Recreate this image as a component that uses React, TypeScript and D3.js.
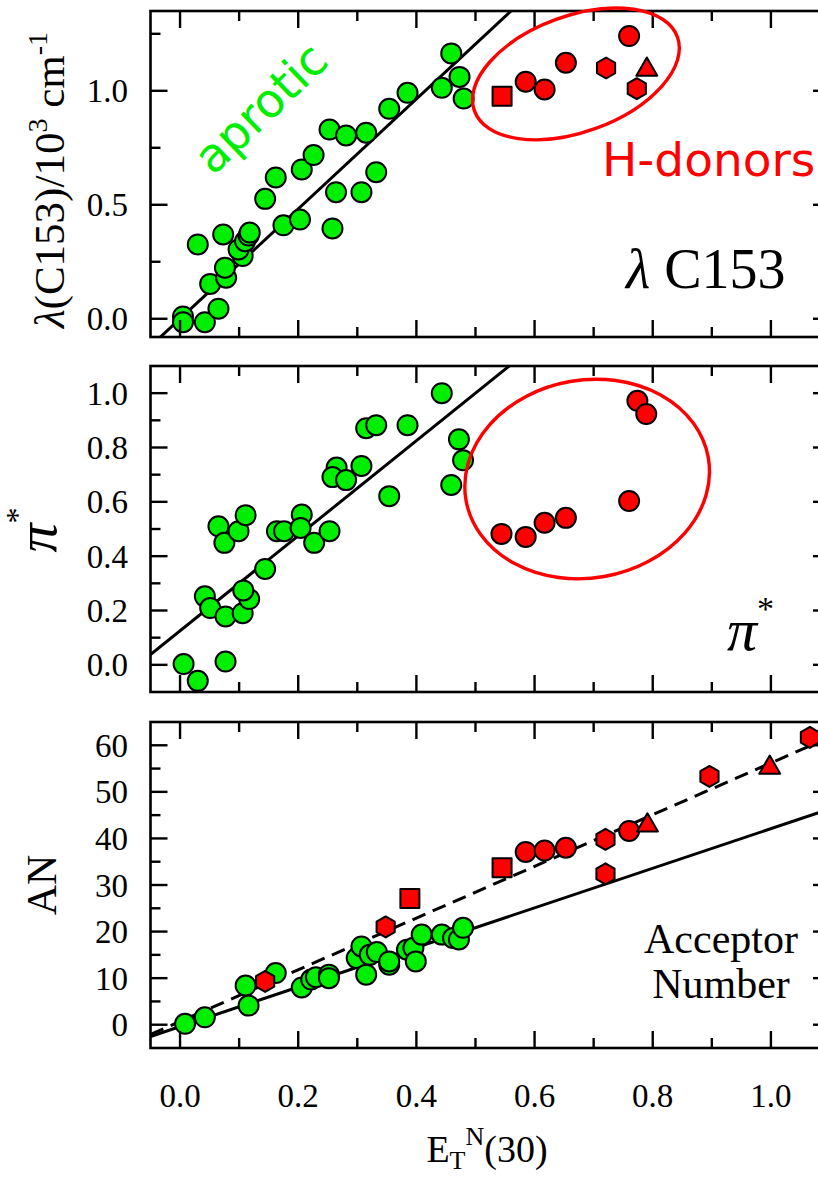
import React from 'react';
import * as d3 from 'd3';

// ---- data ----
// panel 1: lambda(C153)
const lamGreenX = [0.005, 0.005, 0.042, 0.065, 0.030, 0.051, 0.078, 0.076, 0.073, 0.106, 0.099, 0.110, 0.116, 0.118, 0.144, 0.162, 0.175, 0.203, 0.206, 0.226, 0.253, 0.258, 0.264, 0.281, 0.307, 0.315, 0.332, 0.354, 0.385, 0.443, 0.459, 0.473, 0.480];
const lamGreenY = [0.01, -0.015, -0.015, 0.044, 0.326, 0.153, 0.18, 0.224, 0.37, 0.275, 0.304, 0.34, 0.365, 0.378, 0.526, 0.62, 0.41, 0.435, 0.655, 0.718, 0.83, 0.396, 0.555, 0.804, 0.555, 0.816, 0.643, 0.921, 0.991, 1.013, 1.164, 1.061, 0.966];
const lamRedX = [0.545, 0.585, 0.617, 0.653, 0.721, 0.760, 0.790, 0.773];
const lamRedY = [0.976, 1.04, 1.006, 1.123, 1.10, 1.24, 1.093, 1.009];
const lamRedShape = ['square', 'circle', 'circle', 'circle', 'hexagon', 'circle', 'triangle', 'hexagon'];
const lamFit = [2.41, 0.0]; // slope, intercept

// panel 2: pi*
const piGreenX = [0.006, 0.030, 0.077, 0.042, 0.051, 0.077, 0.106, 0.117, 0.107, 0.065, 0.075, 0.099, 0.111, 0.144, 0.164, 0.176, 0.206, 0.204, 0.227, 0.253, 0.265, 0.258, 0.281, 0.307, 0.315, 0.332, 0.354, 0.385, 0.443, 0.472, 0.479, 0.459];
const piGreenY = [0.003, -0.059, 0.012, 0.252, 0.209, 0.178, 0.19, 0.242, 0.274, 0.51, 0.449, 0.492, 0.551, 0.353, 0.492, 0.492, 0.553, 0.504, 0.449, 0.492, 0.726, 0.691, 0.68, 0.732, 0.871, 0.882, 0.621, 0.882, 1.0, 0.83, 0.753, 0.662];
const piRedX = [0.544, 0.585, 0.617, 0.653, 0.760, 0.774, 0.789];
const piRedY = [0.482, 0.471, 0.523, 0.541, 0.603, 0.972, 0.923];
const piFit = [1.75, 0.125];

// panel 3: acceptor number
const anGreenX = [0.0085, 0.042, 0.111, 0.116, 0.162, 0.206, 0.222, 0.230, 0.252, 0.252, 0.299, 0.307, 0.315, 0.321, 0.333, 0.354, 0.354, 0.384, 0.395, 0.399, 0.409, 0.443, 0.462, 0.472, 0.479];
const anGreenY = [0.2, 1.6, 8.4, 4.1, 11.1, 8.0, 9.7, 10.2, 10.75, 10.0, 14.3, 16.8, 10.75, 15.0, 15.6, 12.9, 13.6, 16.1, 16.5, 13.6, 19.35, 19.35, 18.6, 18.3, 20.8];
const anRedX = [0.144, 0.348, 0.389, 0.545, 0.585, 0.617, 0.653, 0.720, 0.720, 0.760, 0.791, 0.896, 0.998, 1.066];
const anRedY = [9.3, 21.0, 27.1, 33.7, 37.1, 37.4, 38.0, 39.8, 32.4, 41.6, 42.8, 53.3, 55.2, 61.7];
const anRedShape = ['hexagon', 'hexagon', 'square', 'square', 'circle', 'circle', 'circle', 'hexagon', 'hexagon', 'circle', 'triangle', 'hexagon', 'triangle', 'hexagon'];
const anFitAll = [42.5, -0.4];
const anFitDonors = [55.5, 0.7];

// ticks
const xMajor = [0, 0.2, 0.4, 0.6, 0.8, 1.0];
const xMinor = [0.1, 0.3, 0.5, 0.7, 0.9];
const xLabels = ['0.0', '0.2', '0.4', '0.6', '0.8', '1.0'];
const lamMajor = [0, 0.5, 1.0];
const lamMinor = [0.25, 0.75, 1.25];
const lamLabels = ['0.0', '0.5', '1.0'];
const piMajor = [0, 0.2, 0.4, 0.6, 0.8, 1.0];
const piMinor = [0.1, 0.3, 0.5, 0.7, 0.9];
const piLabels = ['0.0', '0.2', '0.4', '0.6', '0.8', '1.0'];
const anMajor = [0, 10, 20, 30, 40, 50, 60];
const anMinor = [5, 15, 25, 35, 45, 55];
const anLabels = ['0', '10', '20', '30', '40', '50', '60'];

const GREEN = '#00ee00';
const RED = '#ff0000';
const SERIF = '"Liberation Serif", "Times New Roman", serif';
const SANS = '"DejaVu Sans", Verdana, sans-serif';

const LEFT = 150.5;
const RIGHT = 830;
const MAJ = 17;
const MIN = 10;

const x = d3.scaleLinear().domain([-0.05, 1.1]).range([LEFT, RIGHT]);

const hexPath = (r: number) => {
  const pts = d3.range(6).map(i => {
    const a = (Math.PI / 3) * i - Math.PI / 2;
    return [r * Math.cos(a), r * Math.sin(a)];
  });
  return 'M' + pts.map(p => p.join(',')).join('L') + 'Z';
};
const triPath = (s: number) => {
  const h = (s * Math.sqrt(3)) / 2;
  return `M0,${-h * 2 / 3}L${s / 2},${h / 3}L${-s / 2},${h / 3}Z`;
};

const Marker = ({ cx, cy, shape, fill }: any) => {
  const common = { fill, stroke: '#000', strokeWidth: 2, strokeLinejoin: 'round' as const };
  if (shape === 'square') return <rect x={cx - 9.5} y={cy - 9.5} width={19} height={19} {...common} />;
  if (shape === 'hexagon') return <path transform={`translate(${cx},${cy})`} d={hexPath(10.5)} {...common} />;
  if (shape === 'triangle') return <path transform={`translate(${cx},${cy})`} d={triPath(21)} {...common} />;
  return <circle cx={cx} cy={cy} r={10} {...common} />;
};

const Panel = ({ id, top, bottom, yDomain, major, minor, labels, greenX, greenY, redX, redY, redShape, fits, showX, children }: any) => {
  const y = d3.scaleLinear().domain(yDomain).range([bottom, top]);
  const line = (f: number[]) => {
    const xs = x.domain();
    return d3.line<number>().x(v => x(v)).y(v => y(f[0] * v + f[1]))(xs) as string;
  };
  return (
    <g>
      <defs>
        <clipPath id={id}>
          <rect x={LEFT} y={top} width={RIGHT - LEFT} height={bottom - top} />
        </clipPath>
      </defs>
      <g clipPath={`url(#${id})`}>
        {fits.map((f: any, i: number) => (
          <path key={i} d={line(f.coef)} fill="none" stroke="#000" strokeWidth={3} strokeDasharray={f.dashed ? '14,8' : undefined} />
        ))}
        {greenX.map((v: number, i: number) => (
          <Marker key={'g' + i} cx={x(v)} cy={y(greenY[i])} shape="circle" fill={GREEN} />
        ))}
        {redX.map((v: number, i: number) => (
          <Marker key={'r' + i} cx={x(v)} cy={y(redY[i])} shape={redShape ? redShape[i] : 'circle'} fill={RED} />
        ))}
      </g>
      {/* frame */}
      <rect x={LEFT} y={top} width={RIGHT - LEFT} height={bottom - top} fill="none" stroke="#000" strokeWidth={2.6} />
      {/* x ticks, top and bottom */}
      {xMajor.map(v => (
        <g key={'xm' + v}>
          <line x1={x(v)} x2={x(v)} y1={bottom} y2={bottom - MAJ} stroke="#000" strokeWidth={2.4} />
          <line x1={x(v)} x2={x(v)} y1={top} y2={top + MAJ} stroke="#000" strokeWidth={2.4} />
        </g>
      ))}
      {xMinor.map(v => (
        <g key={'xn' + v}>
          <line x1={x(v)} x2={x(v)} y1={bottom} y2={bottom - MIN} stroke="#000" strokeWidth={2.4} />
          <line x1={x(v)} x2={x(v)} y1={top} y2={top + MIN} stroke="#000" strokeWidth={2.4} />
        </g>
      ))}
      {/* y ticks, left and right */}
      {major.map((v: number) => (
        <g key={'ym' + v}>
          <line x1={LEFT} x2={LEFT + MAJ} y1={y(v)} y2={y(v)} stroke="#000" strokeWidth={2.4} />
          <line x1={RIGHT} x2={RIGHT - MAJ} y1={y(v)} y2={y(v)} stroke="#000" strokeWidth={2.4} />
        </g>
      ))}
      {minor.map((v: number) => (
        <g key={'yn' + v}>
          <line x1={LEFT} x2={LEFT + MIN} y1={y(v)} y2={y(v)} stroke="#000" strokeWidth={2.4} />
          <line x1={RIGHT} x2={RIGHT - MIN} y1={y(v)} y2={y(v)} stroke="#000" strokeWidth={2.4} />
        </g>
      ))}
      {major.map((v: number, i: number) => (
        <text key={'yl' + v} x={128} y={y(v)} dy="0.35em" textAnchor="end" fontFamily={SERIF} fontSize={33}>
          {labels[i]}
        </text>
      ))}
      {showX && xMajor.map((v, i) => (
        <text key={'xl' + v} x={x(v)} y={1107} textAnchor="middle" fontFamily={SERIF} fontSize={33}>
          {xLabels[i]}
        </text>
      ))}
      {children}
    </g>
  );
};

const Ellipse = ({ cx, cy, rx, ry, angle }: any) => (
  <ellipse cx={0} cy={0} rx={rx} ry={ry} transform={`translate(${cx},${cy}) rotate(${angle})`} fill="none" stroke={RED} strokeWidth={3.4} />
);

export default function App() {
  const yLam = d3.scaleLinear().domain([-0.08, 1.35]).range([337, 11]);
  const yPi = d3.scaleLinear().domain([-0.1, 1.1]).range([692, 366]);
  return (
    <svg width={818} height={1178} style={{ position: 'absolute', left: 0, top: 0, background: '#fff' }}>
      <rect width={818} height={1178} fill="#fff" />
      <Panel id="c1" top={11} bottom={337} yDomain={[-0.08, 1.35]} major={lamMajor} minor={lamMinor} labels={lamLabels}
        greenX={lamGreenX} greenY={lamGreenY} redX={lamRedX} redY={lamRedY} redShape={lamRedShape}
        fits={[{ coef: lamFit }]}>
        <Ellipse cx={x(0.67)} cy={yLam(1.074)} rx={108} ry={58} angle={-20} />
        <text transform="translate(272,120) rotate(-44)" textAnchor="middle" fontFamily={SANS} fontSize={47} fill={GREEN}>aprotic</text>
        <text x={602} y={176} fontFamily={SANS} fontSize={47} fill={RED}>H-donors</text>
        <text x={626} y={288} fontFamily={SERIF} fontSize={56}>
          <tspan fontStyle="italic">λ</tspan> C153
        </text>
      </Panel>
      <Panel id="c2" top={366} bottom={692} yDomain={[-0.1, 1.1]} major={piMajor} minor={piMinor} labels={piLabels}
        greenX={piGreenX} greenY={piGreenY} redX={piRedX} redY={piRedY}
        fits={[{ coef: piFit }]}>
        <Ellipse cx={x(0.689)} cy={yPi(0.684)} rx={123} ry={99} angle={-10} />
        <text x={727} y={650} fontFamily={SERIF} fontSize={60}>
          <tspan fontStyle="italic">π</tspan>
          <tspan fontSize={34} dy={-30}>*</tspan>
        </text>
      </Panel>
      <Panel id="c3" top={722} bottom={1048} yDomain={[-5, 65]} major={anMajor} minor={anMinor} labels={anLabels}
        greenX={anGreenX} greenY={anGreenY} redX={anRedX} redY={anRedY} redShape={anRedShape}
        fits={[{ coef: anFitAll }, { coef: anFitDonors, dashed: true }]} showX>
        <text x={721} y={953} textAnchor="middle" fontFamily={SERIF} fontSize={42}>Acceptor</text>
        <text x={721} y={998} textAnchor="middle" fontFamily={SERIF} fontSize={42}>Number</text>
      </Panel>

      {/* axis titles */}
      <text transform="translate(64,180) rotate(-90)" textAnchor="middle" fontFamily={SERIF} fontSize={43}>
        <tspan fontStyle="italic">λ</tspan>(C153)/10<tspan fontSize={28} dy={-17}>3</tspan>
        <tspan dy={17}> cm</tspan><tspan fontSize={28} dy={-17}>-1</tspan>
      </text>
      <text transform="translate(56,530) rotate(-90)" textAnchor="middle" fontFamily={SERIF} fontSize={58}>
        <tspan fontStyle="italic">π</tspan>
        <tspan fontSize={32} dy={-28}>*</tspan>
      </text>
      <text transform="translate(56,885) rotate(-90)" textAnchor="middle" fontFamily={SERIF} fontSize={42}>AN</text>
      <text x={487} y={1162} textAnchor="middle" fontFamily={SERIF} fontSize={38}>
        E<tspan fontSize={26} dy={7}>T</tspan><tspan fontSize={26} dy={-24}>N</tspan><tspan dy={17}>(30)</tspan>
      </text>
    </svg>
  );
}
